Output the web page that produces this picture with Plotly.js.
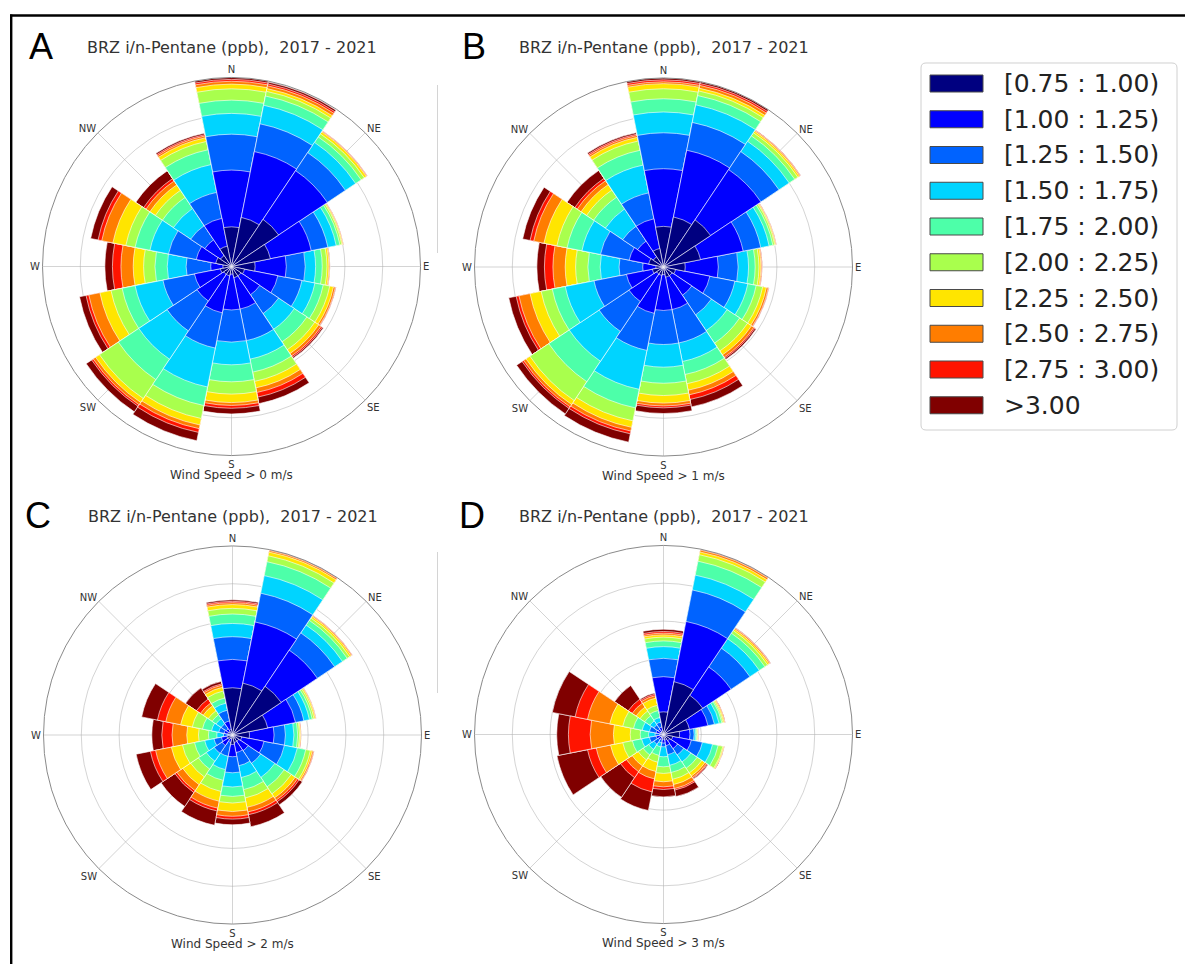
<!DOCTYPE html>
<html><head><meta charset="utf-8">
<script src="https://cdn.plot.ly/plotly-3.0.1.min.js"></script>
<style>html,body{margin:0;padding:0;background:#fff;} #chart{width:1185px;height:964px;}</style>
</head><body><div id="chart"></div>
<script>
// ---------- data ----------
const directions = ['N','NNE','NE','ENE','E','ESE','SE','SSE','S','SSW','SW','WSW','W','WNW','NW','NNW'];
const thetaDeg = [0,22.5,45,67.5,90,112.5,135,157.5,180,202.5,225,247.5,270,292.5,315,337.5];
const binLabels = ['[0.75 : 1.00)','[1.00 : 1.25)','[1.25 : 1.50)','[1.50 : 1.75)','[1.75 : 2.00)',
                   '[2.00 : 2.25)','[2.25 : 2.50)','[2.50 : 2.75)','[2.75 : 3.00)','>3.00'];
const binColors = ['#000080','#0000ff','#0063ff','#00d4ff','#4dffa9','#a9ff4d','#ffe500','#ff7d00','#ff1400','#800000'];
const axisLabels = ['N','NE','E','SE','S','SW','W','NW'];
const axisAngles = [0,45,90,135,180,225,270,315];
const panelTitle = 'BRZ i/n-Pentane (ppb),&nbsp; 2017 - 2021';
const captions = ['Wind Speed > 0 m/s','Wind Speed > 1 m/s','Wind Speed > 2 m/s','Wind Speed > 3 m/s'];
const letters = ['A','B','C','D'];

// cumulative frequency (outer edge of each concentration bin), one row per direction N..NNW
const roseA = [
 [2.1, 5.1, 7.0, 8.1, 8.8, 9.4, 9.65, 9.8, 9.9, 10.0],
 [2.65, 6.2, 7.7, 8.7, 9.2, 9.45, 9.6, 9.75, 9.85, 9.95],
 [3.0, 6.1, 7.25, 7.9, 8.25, 8.45, 8.58, 8.62, 8.64, 8.65],
 [2.1, 4.3, 5.2, 5.65, 5.85, 5.95, 6.0, 6.03, 6.04, 6.05],
 [1.25, 2.9, 3.9, 4.45, 4.8, 5.05, 5.15, 5.2, 5.21, 5.22],
 [0.7, 2.5, 3.8, 4.5, 4.95, 5.3, 5.5, 5.6, 5.63, 5.65],
 [0.6, 1.8, 3.0, 4.0, 4.8, 5.3, 5.55, 5.7, 5.78, 5.85],
 [0.6, 2.3, 4.0, 5.0, 5.7, 6.2, 6.55, 6.8, 7.05, 7.4],
 [0.4, 2.3, 4.0, 5.2, 6.1, 6.75, 7.2, 7.35, 7.5, 7.8],
 [0.5, 2.5, 4.4, 6.5, 7.5, 8.2, 8.55, 8.75, 8.95, 9.4],
 [0.5, 2.2, 4.1, 5.9, 7.2, 8.4, 8.65, 8.8, 8.9, 9.25],
 [0.6, 2.0, 3.7, 5.2, 5.9, 6.5, 7.1, 7.7, 7.85, 8.2],
 [0.45, 1.1, 2.4, 3.4, 4.05, 4.65, 5.2, 5.85, 6.3, 6.7],
 [0.85, 1.9, 3.4, 4.4, 5.2, 5.7, 6.4, 7.0, 7.2, 7.6],
 [0.7, 1.7, 2.6, 3.7, 4.4, 4.85, 5.2, 5.45, 5.6, 6.1],
 [1.1, 2.6, 4.0, 5.5, 6.3, 6.75, 6.95, 7.05, 7.12, 7.2]
];
const roseB = [
 [2.15, 5.2, 7.1, 8.2, 8.9, 9.43, 9.7, 9.8, 9.9, 10.0],
 [2.7, 6.3, 7.8, 8.75, 9.25, 9.5, 9.65, 9.8, 9.9, 10.0],
 [3.0, 6.2, 7.35, 8.0, 8.35, 8.55, 8.65, 8.7, 8.72, 8.73],
 [2.0, 4.3, 5.25, 5.7, 5.9, 6.0, 6.05, 6.08, 6.09, 6.1],
 [1.15, 2.9, 3.95, 4.5, 4.85, 5.05, 5.15, 5.2, 5.22, 5.23],
 [0.65, 2.5, 3.85, 4.55, 5.0, 5.35, 5.55, 5.65, 5.68, 5.7],
 [0.55, 1.8, 3.05, 4.05, 4.85, 5.35, 5.6, 5.75, 5.82, 5.9],
 [0.55, 2.3, 4.1, 5.1, 5.8, 6.3, 6.65, 6.9, 7.15, 7.55],
 [0.4, 2.3, 4.1, 5.3, 6.15, 6.8, 7.2, 7.35, 7.45, 7.75],
 [0.45, 2.5, 4.5, 6.6, 7.6, 8.3, 8.65, 8.85, 9.0, 9.45],
 [0.45, 2.2, 4.1, 6.0, 7.3, 8.5, 8.75, 8.9, 9.0, 9.35],
 [0.6, 2.0, 3.75, 5.3, 6.0, 6.6, 7.2, 7.8, 7.95, 8.35],
 [0.4, 1.1, 2.35, 3.35, 4.0, 4.65, 5.2, 5.85, 6.3, 6.7],
 [0.8, 1.85, 3.4, 4.4, 5.2, 5.75, 6.45, 7.0, 7.2, 7.6],
 [0.65, 1.65, 2.6, 3.7, 4.45, 4.9, 5.25, 5.5, 5.65, 6.15],
 [1.0, 2.6, 4.0, 5.5, 6.3, 6.8, 7.0, 7.1, 7.17, 7.25]
];
const roseC = [
 [2.5, 4.0, 5.2, 5.9, 6.4, 6.7, 6.9, 7.0, 7.07, 7.15],
 [2.8, 6.1, 7.65, 8.6, 9.35, 9.67, 9.87, 9.95, 9.98, 10.0],
 [3.1, 5.4, 6.5, 7.0, 7.3, 7.45, 7.55, 7.6, 7.62, 7.63],
 [1.9, 3.4, 3.85, 4.15, 4.3, 4.4, 4.47, 4.5, 4.51, 4.52],
 [0.9, 2.2, 2.8, 3.25, 3.45, 3.55, 3.6, 3.62, 3.63, 3.64],
 [0.5, 1.7, 2.8, 3.5, 3.95, 4.2, 4.3, 4.37, 4.4, 4.41],
 [0.4, 1.0, 1.8, 2.7, 3.3, 3.75, 4.0, 4.15, 4.25, 4.45],
 [0.4, 0.95, 1.66, 2.3, 2.95, 3.4, 3.9, 4.15, 4.3, 4.95],
 [0.5, 1.15, 2.0, 2.75, 3.25, 3.6, 4.05, 4.3, 4.45, 4.75],
 [0.2, 0.4, 1.15, 1.87, 2.45, 3.05, 3.57, 3.95, 4.1, 4.87],
 [0.3, 0.67, 1.17, 1.67, 2.17, 2.67, 3.17, 3.55, 3.67, 4.55],
 [0.3, 0.6, 1.0, 1.5, 2.05, 2.7, 3.3, 4.15, 4.43, 5.2],
 [0.1, 0.2, 0.48, 0.83, 1.27, 1.8, 2.42, 3.2, 3.74, 4.27],
 [0.25, 0.45, 0.74, 1.13, 1.62, 2.17, 2.8, 3.6, 4.05, 4.9],
 [0.2, 0.4, 0.72, 1.05, 1.3, 1.55, 1.87, 2.05, 2.3, 3.0],
 [0.3, 0.76, 1.34, 1.72, 2.0, 2.38, 2.58, 2.7, 2.77, 2.9]
];
const roseD = [
 [1.2, 3.06, 4.03, 4.65, 4.95, 5.15, 5.27, 5.36, 5.45, 5.57],
 [2.85, 6.1, 7.8, 8.6, 9.35, 9.7, 9.85, 9.95, 9.98, 10.0],
 [2.5, 4.3, 5.5, 6.1, 6.45, 6.62, 6.72, 6.78, 6.8, 6.82],
 [1.4, 2.4, 2.75, 3.0, 3.15, 3.22, 3.28, 3.32, 3.33, 3.34],
 [0.85, 1.4, 1.62, 1.7, 1.76, 1.8, 1.83, 1.85, 1.86, 1.87],
 [0.5, 1.5, 2.1, 2.65, 2.95, 3.2, 3.25, 3.27, 3.28, 3.29],
 [0.4, 0.9, 1.3, 1.75, 2.15, 2.45, 2.65, 2.75, 2.8, 2.85],
 [0.3, 0.6, 1.09, 1.66, 2.05, 2.42, 2.7, 2.92, 3.0, 3.35],
 [0.25, 0.45, 0.65, 1.18, 1.71, 2.06, 2.5, 2.77, 2.91, 3.3],
 [0.15, 0.3, 0.45, 0.67, 1.13, 1.5, 2.0, 2.4, 3.1, 4.1],
 [0.15, 0.35, 0.62, 0.95, 1.3, 1.62, 2.0, 2.37, 2.75, 4.0],
 [0.2, 0.4, 0.76, 1.18, 1.68, 2.2, 2.86, 3.63, 4.1, 5.75],
 [0.08, 0.18, 0.44, 0.79, 1.23, 1.76, 2.65, 3.88, 5.03, 5.65],
 [0.15, 0.4, 0.76, 1.15, 1.62, 2.2, 2.9, 4.1, 4.77, 6.0],
 [0.15, 0.35, 0.62, 0.87, 1.2, 1.5, 1.75, 2.0, 2.25, 3.12],
 [0.2, 0.4, 0.67, 0.92, 1.3, 1.58, 1.97, 2.1, 2.18, 2.25]
];
const radialGrid = [2, 4, 6, 8, 10];
const radialMax = 10;

// ---------- geometry ----------
const W = 1185, H = 964, R = 189;
const px = x => x / W, py = y => 1 - y / H;
const panels = [
  {id:'polar',  data:roseA, cx:231.5, cy:266.5},
  {id:'polar2', data:roseB, cx:663.5, cy:267.0},
  {id:'polar3', data:roseC, cx:232.5, cy:735.0},
  {id:'polar4', data:roseD, cx:663.5, cy:734.5}
];

const traces = [];
const layout = {
  width: W, height: H, margin:{l:0,r:0,t:0,b:0},
  paper_bgcolor:'#ffffff', showlegend:false,
  font:{family:'DejaVu Sans', color:'#333'},
  annotations:[], shapes:[]
};

panels.forEach((p, i) => {
  for (let k = binLabels.length - 1; k >= 0; k--) {
    traces.push({
      type:'barpolar', subplot:p.id, name:binLabels[k],
      theta: thetaDeg, r: p.data.map(d => d[k]), width: 22.5,
      marker:{color:binColors[k], line:{color:'rgba(255,255,255,0.75)', width:0.8}},
      hoverinfo:'skip', showlegend:false
    });
  }
  layout[p.id] = {
    domain:{x:[px(p.cx - R), px(p.cx + R)], y:[py(p.cy + R), py(p.cy - R)]},
    bgcolor:'rgba(0,0,0,0)', barmode:'overlay', bargap:0,
    radialaxis:{range:[0, radialMax], tickmode:'array', tickvals:radialGrid, showticklabels:false,
      ticks:'', showline:false, gridcolor:'rgba(170,170,170,0.5)', gridwidth:1, layer:'above traces'},
    angularaxis:{rotation:90, direction:'clockwise', tickmode:'array', tickvals:axisAngles, ticktext:axisLabels,
      ticks:'', showline:true, linecolor:'#8a8a8a', linewidth:1, gridcolor:'rgba(170,170,170,0.5)', gridwidth:1,
      tickfont:{family:'DejaVu Sans', size:10, color:'#333'}, layer:'above traces'}
  };
  const titleY = i < 2 ? 47.5 : 516;
  layout.annotations.push({xref:'paper', yref:'paper', x:px(p.cx), y:py(titleY), xanchor:'center', yanchor:'middle',
    text:panelTitle, showarrow:false, font:{family:'DejaVu Sans', size:16, color:'#333'}});
  layout.annotations.push({xref:'paper', yref:'paper', x:px(p.cx), y:py(p.cy + 208.5), xanchor:'center', yanchor:'middle',
    text:captions[i], showarrow:false, font:{family:'DejaVu Sans', size:12, color:'#333'}});
  const lx = [41.5, 474, 38, 472][i];
  layout.annotations.push({xref:'paper', yref:'paper', x:px(lx), y:py(titleY - 1), xanchor:'center', yanchor:'middle',
    text:letters[i], showarrow:false, font:{family:'Liberation Sans', size:36, color:'#000'}});
});

// outer frame lines
layout.shapes.push({type:'line', xref:'paper', yref:'paper', x0:px(10), x1:px(1190), y0:py(15.5), y1:py(15.5), line:{color:'#000', width:2.4}});
layout.shapes.push({type:'line', xref:'paper', yref:'paper', x0:px(11.2), x1:px(11.2), y0:py(14.5), y1:py(970), line:{color:'#000', width:2.4}});
// faint vertical strokes right of the left-hand roses
layout.shapes.push({type:'line', xref:'paper', yref:'paper', x0:px(437.5), x1:px(437.5), y0:py(85), y1:py(253), line:{color:'#d4d4d4', width:1}});
layout.shapes.push({type:'line', xref:'paper', yref:'paper', x0:px(437.5), x1:px(437.5), y0:py(552), y1:py(693), line:{color:'#d4d4d4', width:1}});

// legend (drawn manually to match the wide swatches)
const lg = {x0:921, x1:1177, y0:63, y1:430, rad:5};
const P = (x, y) => px(x).toFixed(5) + ',' + py(y).toFixed(5);
layout.shapes.push({type:'path', xref:'paper', yref:'paper',
  path:'M' + P(lg.x0 + lg.rad, lg.y0) + ' L' + P(lg.x1 - lg.rad, lg.y0) + ' Q' + P(lg.x1, lg.y0) + ' ' + P(lg.x1, lg.y0 + lg.rad) +
       ' L' + P(lg.x1, lg.y1 - lg.rad) + ' Q' + P(lg.x1, lg.y1) + ' ' + P(lg.x1 - lg.rad, lg.y1) +
       ' L' + P(lg.x0 + lg.rad, lg.y1) + ' Q' + P(lg.x0, lg.y1) + ' ' + P(lg.x0, lg.y1 - lg.rad) +
       ' L' + P(lg.x0, lg.y0 + lg.rad) + ' Q' + P(lg.x0, lg.y0) + ' ' + P(lg.x0 + lg.rad, lg.y0) + ' Z',
  line:{color:'#d0d0d0', width:1}, fillcolor:'rgba(255,255,255,0.9)'});
binLabels.forEach((lab, k) => {
  const cy = 83.5 + 35.75 * k;
  layout.shapes.push({type:'rect', xref:'paper', yref:'paper', x0:px(930), x1:px(983), y0:py(cy + 8.5), y1:py(cy - 8.5),
    fillcolor:binColors[k], line:{color:'#4a4a4a', width:1}});
  layout.annotations.push({xref:'paper', yref:'paper', x:px(1002), y:py(cy), xanchor:'left', yanchor:'middle',
    text:lab, showarrow:false, font:{family:'DejaVu Sans', size:25, color:'#222'}});
});

Plotly.newPlot('chart', traces, layout, {displayModeBar:false, staticPlot:true});
</script></body></html>
